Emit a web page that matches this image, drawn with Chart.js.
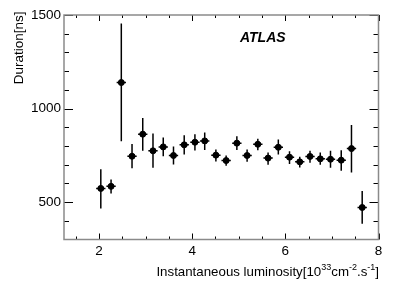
<!DOCTYPE html>
<html>
<head>
<meta charset="utf-8">
<script src="https://cdn.jsdelivr.net/npm/chart.js@4.4.1/dist/chart.umd.min.js"></script>
<style>
  html, body { margin: 0; padding: 0; background: #fff; }
  #wrap { position: relative; width: 399px; height: 286px; }
</style>
</head>
<body>
<div id="wrap"><canvas id="durationChart"></canvas></div>
<script>
// Instantaneous luminosity bin centres [10^33 cm^-2 s^-1]
const lumi = [2.04, 2.26, 2.48, 2.71, 2.94, 3.16, 3.38, 3.60, 3.83, 4.06, 4.27, 4.51, 4.73,
  4.96, 5.18, 5.41, 5.63, 5.85, 6.09, 6.31, 6.53, 6.75, 6.97, 7.20, 7.42, 7.65];
const lumiErr = 0.1;

// Duration [ns] with lower / upper error edges
const duration = [573, 584, 1139, 745, 863, 774, 795, 749, 806, 820, 827, 751, 722,
  815, 749, 809, 735, 793, 740, 715, 744, 731, 729, 724, 786, 471];
const durationLow = [466, 546, 825, 681, 774, 683, 745, 701, 754, 776, 779, 717, 694,
  779, 715, 777, 699, 754, 703, 685, 710, 699, 683, 667, 658, 384];
const durationHigh = [676, 621, 1454, 811, 950, 867, 845, 797, 857, 863, 872, 781, 749,
  852, 781, 838, 765, 835, 772, 742, 774, 765, 774, 777, 912, 559];

const xTicks = [2, 4, 6, 8];
const xMinorTicks = [1.5, 2.5, 3, 3.5, 4.5, 5, 5.5, 6.5, 7, 7.5];
const yTicks = [500, 1000, 1500];
const yMinorTicks = [400, 600, 700, 800, 900, 1100, 1200, 1300, 1400];

const FONT = "'Liberation Sans', Arial, Helvetica, sans-serif";

// vertical + horizontal error bars, drawn under the markers
const errorBars = {
  id: "errorBars",
  beforeDatasetsDraw(chart) {
    const { ctx, chartArea, scales: { x, y } } = chart;
    ctx.save();
    ctx.beginPath();
    ctx.rect(chartArea.left, chartArea.top, chartArea.right - chartArea.left, chartArea.bottom - chartArea.top);
    ctx.clip();
    ctx.strokeStyle = "#000";
    ctx.lineWidth = 1.5;
    ctx.beginPath();
    lumi.forEach((v, i) => {
      const px = x.getPixelForValue(v);
      const py = y.getPixelForValue(duration[i]);
      ctx.moveTo(px, y.getPixelForValue(durationLow[i]));
      ctx.lineTo(px, y.getPixelForValue(durationHigh[i]));
      ctx.moveTo(x.getPixelForValue(v - lumiErr), py);
      ctx.lineTo(x.getPixelForValue(v + lumiErr), py);
    });
    ctx.stroke();
    ctx.restore();
  },
};

// ROOT-like frame with inside ticks, titles and the ATLAS label
const frame = {
  id: "frame",
  afterDraw(chart) {
    const { ctx, chartArea: a, scales: { x, y } } = chart;
    ctx.save();

    ctx.strokeStyle = "#000";
    ctx.lineWidth = 1;
    ctx.beginPath();
    const tickX = (vals, len) => vals.forEach((v) => {
      const px = Math.round(x.getPixelForValue(v)) + 0.5;
      ctx.moveTo(px, a.bottom); ctx.lineTo(px, a.bottom - len);
      ctx.moveTo(px, a.top); ctx.lineTo(px, a.top + len);
    });
    const tickY = (vals, len) => vals.forEach((v) => {
      const py = Math.round(y.getPixelForValue(v)) + 0.5;
      ctx.moveTo(a.left, py); ctx.lineTo(a.left + len, py);
      ctx.moveTo(a.right, py); ctx.lineTo(a.right - len, py);
    });
    tickX(xTicks, 6);
    tickX(xMinorTicks, 3);
    tickY(yTicks, 9);
    tickY(yMinorTicks, 5);
    ctx.stroke();

    ctx.strokeStyle = "#8a8a8a";
    ctx.lineWidth = 1.5;
    ctx.strokeRect(a.left, a.top, a.right - a.left, a.bottom - a.top);

    // ATLAS
    ctx.fillStyle = "#000";
    ctx.font = "italic bold 14px " + FONT;
    ctx.textBaseline = "middle";
    ctx.textAlign = "left";
    ctx.fillText("ATLAS", 240, 38);

    // y title, right-aligned to the top of the axis
    ctx.save();
    ctx.translate(23, 11.5);
    ctx.rotate(-Math.PI / 2);
    ctx.font = "13.5px " + FONT;
    ctx.textAlign = "right";
    ctx.textBaseline = "alphabetic";
    ctx.fillText("Duration[ns]", 0, 0);
    ctx.restore();

    // x title with superscripts, right-aligned to the end of the axis
    const parts = [
      ["Instantaneous luminosity[10", false], ["33", true], ["cm", false],
      ["-2", true], [".s", false], ["-1", true], ["]", false],
    ];
    const big = "13.3px " + FONT;
    const small = "9px " + FONT;
    let total = 0;
    parts.forEach(([t, sup]) => { ctx.font = sup ? small : big; total += ctx.measureText(t).width; });
    let cx = 379 - total;
    ctx.textAlign = "left";
    ctx.textBaseline = "alphabetic";
    parts.forEach(([t, sup]) => {
      ctx.font = sup ? small : big;
      ctx.fillText(t, cx, sup ? 270 : 276);
      cx += ctx.measureText(t).width;
    });

    ctx.restore();
  },
};

new Chart(document.getElementById("durationChart"), {
  type: "scatter",
  data: {
    datasets: [{
      data: lumi.map((v, i) => ({ x: v, y: duration[i] })),
      backgroundColor: "#000",
      borderColor: "#000",
      pointRadius: 3,
      pointHoverRadius: 3,
    }],
  },
  options: {
    responsive: true,
    maintainAspectRatio: false,
    animation: false,
    layout: { padding: { top: 15, right: 20.5, left: 0, bottom: 0 } },
    plugins: { legend: { display: false }, tooltip: { enabled: false } },
    scales: {
      x: {
        type: "linear",
        min: 1.25,
        max: 8,
        border: { display: false },
        grid: { display: false, drawTicks: false },
        afterBuildTicks: (axis) => { axis.ticks = xTicks.map((v) => ({ value: v })); },
        afterFit: (axis) => { axis.height = 46.5; },
        ticks: { color: "#000", padding: 4, maxRotation: 0, font: { family: FONT, size: 13.5 },
          callback: (value) => String(value) },
      },
      y: {
        type: "linear",
        min: 300,
        max: 1500,
        border: { display: false },
        grid: { display: false, drawTicks: false },
        afterBuildTicks: (axis) => { axis.ticks = yTicks.map((v) => ({ value: v })); },
        afterFit: (axis) => { axis.width = 64; },
        ticks: { color: "#000", padding: 3, font: { family: FONT, size: 13.5 },
          callback: (value) => String(value) },
      },
    },
  },
  plugins: [errorBars, frame],
});
</script>
</body>
</html>
